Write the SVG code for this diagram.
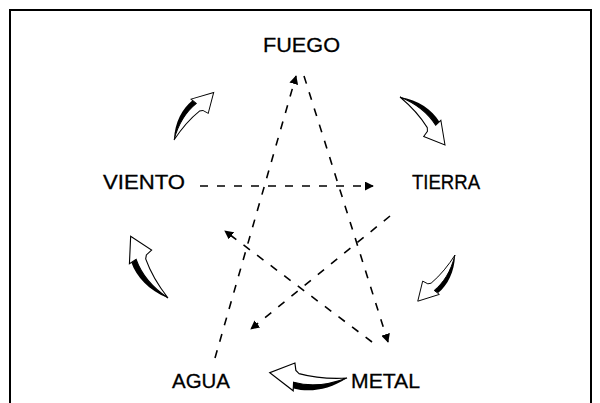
<svg xmlns="http://www.w3.org/2000/svg" width="600" height="403" viewBox="0 0 600 403">
<defs>
<style>
.lbl{font-family:"Liberation Sans",Arial,sans-serif;font-size:21px;fill:#000;stroke:#000;stroke-width:0.3}
.dash{fill:none;stroke:#000;stroke-width:1.6;stroke-dasharray:8 9}
.frame{fill:none;stroke:#000;stroke-width:2}
</style>
<marker id="ah" viewBox="0 0 10 10" refX="9" refY="5" markerWidth="9" markerHeight="9" markerUnits="userSpaceOnUse" orient="auto">
<path d="M0,0 L10,5 L0,10 Z" fill="#000"/>
</marker>
<g id="curl">
<path d="M0,0 C16,-10 30,-13 43,-12 L42,-19 L64,-8 L45,4 L43,-2 L40,-4 C27,-5 12,-3 0,0 Z" fill="#fff" stroke="#000" stroke-width="1"/>
<path d="M0,0 C16,-10 30,-13 43,-12 L42,-17 C29,-18 13,-13 0,0 Z" fill="#000"/>
</g>
</defs>
<rect width="600" height="403" fill="#fff"/>
<path class="frame" d="M10,403 L10,10 L591,10 L591,403"/>
<g id="connectors">
<line class="dash" x1="200" y1="186" x2="373" y2="186" marker-end="url(#ah)"/>
<line class="dash" x1="215" y1="358" x2="296" y2="76" marker-end="url(#ah)"/>
<line class="dash" x1="304" y1="76" x2="388" y2="342" marker-end="url(#ah)"/>
<line class="dash" x1="390" y1="216" x2="251" y2="329" marker-end="url(#ah)"/>
<line class="dash" x1="372" y1="342" x2="225" y2="231" marker-end="url(#ah)"/>
</g>
<g id="cycle-arrows">
<use href="#curl" transform="translate(174,140) rotate(-43) scale(0.96)"/>
<use href="#curl" transform="translate(400,97) rotate(54) scale(1.02)"/>
<use href="#curl" transform="translate(455,255) rotate(136) scale(0.92)"/>
<use href="#curl" transform="translate(347,378) rotate(191) scale(1.2)"/>
<use href="#curl" transform="translate(168,298) rotate(246) scale(1.12)"/>
</g>
<g id="fuego"><text class="lbl" x="263" y="52" textLength="77" lengthAdjust="spacingAndGlyphs">FUEGO</text></g>
<g id="viento"><text class="lbl" x="103" y="189" textLength="82" lengthAdjust="spacingAndGlyphs">VIENTO</text></g>
<g id="tierra"><text class="lbl" x="412" y="189" textLength="68" lengthAdjust="spacingAndGlyphs">TIERRA</text></g>
<g id="agua"><text class="lbl" x="172" y="388" textLength="58" lengthAdjust="spacingAndGlyphs">AGUA</text></g>
<g id="metal"><text class="lbl" x="351" y="388" textLength="69" lengthAdjust="spacingAndGlyphs">METAL</text></g>
</svg>
